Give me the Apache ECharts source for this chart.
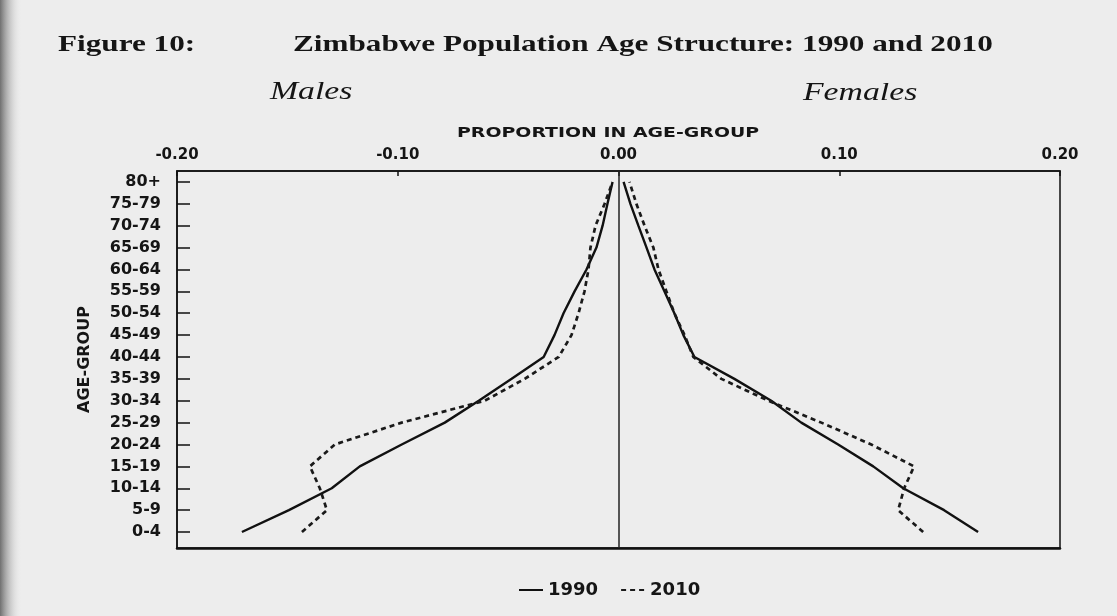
<!DOCTYPE html>
<html>
<head>
<meta charset="utf-8">
<script src="https://cdn.jsdelivr.net/npm/echarts@6/dist/echarts.min.js"></script>
<style>
html,body{margin:0;padding:0;background:#ededed;}
#chart{width:1117px;height:616px;}
</style>
</head>
<body>
<div id="chart"></div>
<script>
// ---- data ----
const ageGroups = ['0-4','5-9','10-14','15-19','20-24','25-29','30-34','35-39','40-44','45-49','50-54','55-59','60-64','65-69','70-74','75-79','80+'];
const male1990   = [-0.1706,-0.1493,-0.1299,-0.1172,-0.0982,-0.0787,-0.0633,-0.0484,-0.0339,-0.0290,-0.0249,-0.0199,-0.0145,-0.0100,-0.0072,-0.0050,-0.0027];
const male2010   = [-0.1434,-0.1321,-0.1353,-0.1398,-0.1285,-0.0982,-0.0606,-0.0425,-0.0271,-0.0213,-0.0181,-0.0154,-0.0136,-0.0127,-0.0104,-0.0063,-0.0027];
const female1990 = [0.1629,0.1475,0.1290,0.1154,0.0995,0.0828,0.0692,0.0525,0.0344,0.0294,0.0253,0.0208,0.0163,0.0127,0.0090,0.0054,0.0023];
const female2010 = [0.1380,0.1267,0.1294,0.1339,0.1145,0.0919,0.0679,0.0466,0.0339,0.0299,0.0253,0.0217,0.0181,0.0158,0.0118,0.0081,0.0050];
const xTickLabels = ['-0.20','-0.10','0.00','0.10','0.20'];
const seriesNames = ['1990','2010'];

const pairs = arr => arr.map((v, i) => [v, i]);
const idx = ageGroups.map((_, i) => i);
const sans = '"DejaVu Sans", sans-serif';
const serif = '"Liberation Serif", "Times New Roman", serif';

const solidStyle = { color: '#111', width: 2.4, type: 'solid' };
const dashStyle = { color: '#1a1a1a', width: 2.7, type: [5, 4] };

const chart = echarts.init(document.getElementById('chart'));
chart.setOption({
  backgroundColor: '#ededed',
  animation: false,
  grid: { left: 177, right: 57, top: 171, bottom: 68, show: true, borderColor: '#111', borderWidth: 1.5, backgroundColor: 'transparent' },
  xAxis: [{
    type: 'value', position: 'top', min: -0.2, max: 0.2, interval: 0.1,
    axisLine: { show: true, onZero: false, lineStyle: { color: '#111', width: 1.5 } },
    axisTick: { show: true, inside: true, length: 5, lineStyle: { color: '#111', width: 1.5 } },
    splitLine: { show: false },
    axisLabel: {
      margin: 8, color: '#151515', fontFamily: sans, fontWeight: 'bold', fontSize: 15,
      formatter: v => xTickLabels[Math.round((v + 0.2) / 0.1)]
    }
  }, {
    type: 'value', position: 'bottom', min: -0.2, max: 0.2,
    axisLine: { show: true, onZero: false, lineStyle: { color: '#111', width: 2.5 } },
    axisTick: { show: false }, axisLabel: { show: false }, splitLine: { show: false }
  }],
  yAxis: {
    type: 'value', min: -0.73, max: 16.5, position: 'left',
    name: 'AGE-GROUP', nameLocation: 'middle', nameGap: 84, nameRotate: 90,
    nameTextStyle: { color: '#151515', fontFamily: sans, fontWeight: 'bold', fontSize: 16 },
    axisLine: { show: true, onZero: false, lineStyle: { color: '#111', width: 1.5 } },
    axisTick: { show: true, inside: true, length: 13, customValues: idx, lineStyle: { color: '#111', width: 1.5 } },
    splitLine: { show: false },
    axisLabel: {
      customValues: idx, margin: 16, color: '#151515', fontFamily: sans, fontWeight: 'bold', fontSize: 16,
      formatter: v => ageGroups[Math.round(v)]
    }
  },
  legend: {
    data: seriesNames, left: 513, top: 576, itemWidth: 24, itemHeight: 2, itemGap: 22,
    itemStyle: { opacity: 0 },
    textStyle: { color: '#151515', fontFamily: sans, fontWeight: 'bold', fontSize: 18 }
  },
  series: [
    { name: seriesNames[0], type: 'line', data: pairs(male1990), symbol: 'none', lineStyle: solidStyle, itemStyle: { color: '#111' },
      markLine: { silent: true, symbol: 'none', label: { show: false }, lineStyle: { color: '#222', width: 1.5, type: 'solid' }, data: [{ xAxis: 0 }] } },
    { name: seriesNames[0], type: 'line', data: pairs(female1990), symbol: 'none', lineStyle: solidStyle, itemStyle: { color: '#111' } },
    { name: seriesNames[1], type: 'line', data: pairs(male2010), symbol: 'none', lineStyle: dashStyle, itemStyle: { color: '#1a1a1a' } },
    { name: seriesNames[1], type: 'line', data: pairs(female2010), symbol: 'none', lineStyle: dashStyle, itemStyle: { color: '#1a1a1a' } }
  ],
  graphic: [
    { type: 'rect', x: 0, y: 0, shape: { width: 22, height: 616 }, silent: true, z: -1,
      style: { fill: new echarts.graphic.LinearGradient(0, 0, 1, 0, [{ offset: 0, color: 'rgba(90,90,90,0.85)' }, { offset: 1, color: 'rgba(237,237,237,0)' }]) } },
    { type: 'text', x: 58, y: 45, scaleX: 1.3, style: { text: 'Figure 10:', font: 'bold 24px ' + serif, fill: '#151515', textAlign: 'left', textVerticalAlign: 'middle' } },
    { type: 'text', x: 293, y: 45, scaleX: 1.3, style: { text: 'Zimbabwe Population Age Structure: 1990 and 2010', font: 'bold 24px ' + serif, fill: '#151515', textAlign: 'left', textVerticalAlign: 'middle' } },
    { type: 'text', x: 270, y: 92, scaleX: 1.35, style: { text: 'Males', font: 'italic 25px ' + serif, fill: '#151515', textAlign: 'left', textVerticalAlign: 'middle' } },
    { type: 'text', x: 803, y: 93, scaleX: 1.35, style: { text: 'Females', font: 'italic 25px ' + serif, fill: '#151515', textAlign: 'left', textVerticalAlign: 'middle' } },
    { type: 'text', x: 457, y: 133, scaleX: 1.35, style: { text: 'PROPORTION IN AGE-GROUP', font: 'bold 14px ' + sans, fill: '#151515', textAlign: 'left', textVerticalAlign: 'middle' } }
  ]
});
</script>
</body>
</html>
